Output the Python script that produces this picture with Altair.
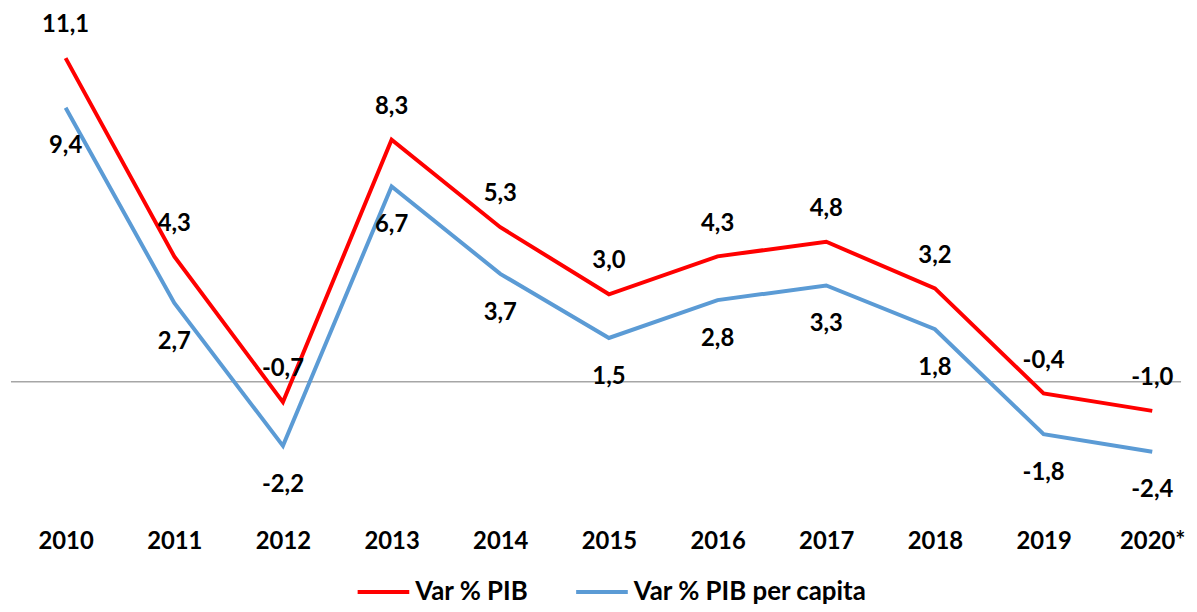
import altair as alt
import pandas as pd

years = ["2010", "2011", "2012", "2013", "2014", "2015", "2016", "2017", "2018", "2019", "2020*"]
pib = [11.1, 4.3, -0.7, 8.3, 5.3, 3.0, 4.3, 4.8, 3.2, -0.4, -1.0]
pib_pc = [9.4, 2.7, -2.2, 6.7, 3.7, 1.5, 2.8, 3.3, 1.8, -1.8, -2.4]
series = ["Var % PIB", "Var % PIB per capita"]
colors = ["#FF0000", "#5B9BD5"]

rows = []
for s, vals in zip(series, [pib, pib_pc]):
    for i, (y, v) in enumerate(zip(years, vals)):
        rows.append({"year": y, "serie": s, "value": v,
                     "label": f"{v:.1f}".replace(".", ",")})
df = pd.DataFrame(rows)

FONT = "Lato"
W = 1178
H = 499

xscale = alt.Scale(domain=years, range=[55, 1149], padding=0)
yscale = alt.Scale(domain=[-5, 12], nice=False, zero=False)

x = alt.X("year:N", scale=xscale, sort=years,
          axis=alt.Axis(title=None, labelAngle=0, domain=False, ticks=False, grid=False,
                        labelFont=FONT, labelFontSize=24, labelFontWeight="bold",
                        labelColor="#000000", labelPadding=2))
y = alt.Y("value:Q", scale=yscale, axis=None)

zero = alt.Chart(pd.DataFrame({"z": [0]})).mark_rule(color="#A6A6A6", strokeWidth=1.5).encode(
    y=alt.Y("z:Q", scale=yscale, axis=None))

lines = alt.Chart(df).mark_line(strokeWidth=4).encode(
    x=x, y=y,
    color=alt.Color("serie:N", scale=alt.Scale(domain=series, range=colors),
                    legend=alt.Legend(title=None, orient="none", legendX=347, legendY=536,
                                      direction="horizontal", symbolType="stroke",
                                      symbolSize=2704, symbolStrokeWidth=4,
                                      labelFont=FONT, labelFontSize=26, labelFontWeight="bold",
                                      labelColor="#000000", labelOffset=4, columnPadding=40,
                                      labelLimit=400)),
    detail="serie:N")

red_labels = alt.Chart(df[df["serie"] == series[0]]).mark_text(
    font=FONT, fontSize=24, fontWeight="bold", color="#000000", dy=-33, baseline="middle").encode(
    x=x, y=y, text="label:N")
blue_labels = alt.Chart(df[df["serie"] == series[1]]).mark_text(
    font=FONT, fontSize=24, fontWeight="bold", color="#000000", dy=39, baseline="middle").encode(
    x=x, y=y, text="label:N")

chart = alt.layer(zero, lines, red_labels, blue_labels).properties(
    width=W, height=H,
    autosize=alt.AutoSizeParams(type="none"),
    padding={"left": 3, "top": 22, "right": 8, "bottom": 75},
).configure_view(stroke="transparent", strokeWidth=0)

chart.save("out.html", embed_options={"renderer": "svg", "actions": False})
